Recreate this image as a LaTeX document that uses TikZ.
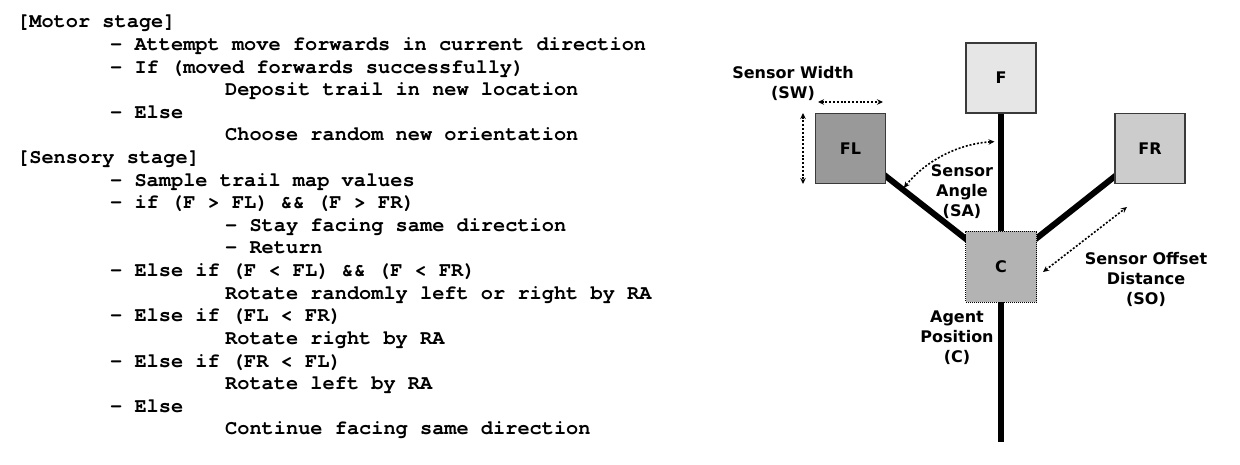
\documentclass[tikz,border=0pt]{standalone}
\usepackage{fontspec}
\usetikzlibrary{arrows.meta,backgrounds}
\newfontfamily\codefont{texgyrecursor}[Extension=.otf,UprightFont=*-regular,BoldFont=*-bold]
\newfontfamily\lblfont{DejaVu Sans}
\definecolor{boxedge}{HTML}{3A3A3A}
\definecolor{fillF}{HTML}{E6E6E6}
\definecolor{fillFL}{HTML}{999999}
\definecolor{fillFR}{HTML}{CCCCCC}
\definecolor{fillC}{HTML}{B3B3B3}
\begin{document}
\begin{tikzpicture}[x=1pt,y=-1pt,
  codeline/.style={anchor=base west,inner sep=0pt,font=\codefont\bfseries\fontsize{20.3}{22.6}\selectfont},
  lbl/.style={align=center,inner sep=0pt,anchor=north,font=\lblfont\bfseries\fontsize{16}{20}\selectfont},
  sensorbox/.style={draw=boxedge,line width=1.5pt,minimum size=70pt,inner sep=0pt,font=\lblfont\bfseries\fontsize{16}{20}\selectfont},
  agentbox/.style={draw=black,line width=0.8pt,dash pattern=on 1pt off 1pt,minimum size=71pt,inner sep=0pt,font=\lblfont\bfseries\fontsize{16}{20}\selectfont},
  stem/.style={line width=6pt,black,line cap=butt},
  dim/.style={line width=1.6pt,dash pattern=on 2pt off 1.8pt,{Stealth[length=6pt,width=5.5pt]}-{Stealth[length=6pt,width=5.5pt]}}]
\useasboundingbox (0,0) rectangle (1240,465);

% ---- pseudo code ----
\node[codeline] (l1)  at (17,28)     {[Motor stage]};
\node[codeline] (l2)  at (110,50.6)  {- Attempt move forwards in current direction};
\node[codeline] (l3)  at (110,73.2)  {- If (moved forwards successfully)};
\node[codeline] (l4)  at (225,95.8)  {Deposit trail in new location};
\node[codeline] (l5)  at (110,118.4) {- Else};
\node[codeline] (l6)  at (225,141)   {Choose random new orientation};
\node[codeline] (l7)  at (17,163.6)  {[Sensory stage]};
\node[codeline] (l8)  at (110,186.2) {- Sample trail map values};
\node[codeline] (l9)  at (110,208.8) {- if (F > FL) \&\& (F > FR)};
\node[codeline] (l10) at (225,231.4) {- Stay facing same direction};
\node[codeline] (l11) at (225,254)   {- Return};
\node[codeline] (l12) at (110,276.6) {- Else if (F < FL) \&\& (F < FR)};
\node[codeline] (l13) at (225,299.2) {Rotate randomly left or right by RA};
\node[codeline] (l14) at (110,321.8) {- Else if (FL < FR)};
\node[codeline] (l15) at (225,344.4) {Rotate right by RA};
\node[codeline] (l16) at (110,367)   {- Else if (FR < FL)};
\node[codeline] (l17) at (225,389.6) {Rotate left by RA};
\node[codeline] (l18) at (110,412.2) {- Else};
\node[codeline] (l19) at (225,434.8) {Continue facing same direction};

% ---- agent diagram ----
\node[sensorbox,fill=fillF]  (F)  at (1001,78)  {F};
\node[sensorbox,fill=fillFL] (FL) at (850.5,148.5) {FL};
\node[sensorbox,fill=fillFR] (FR) at (1150,148.5) {FR};
\node[agentbox,fill=fillC]   (C)  at (1001,266.5) {C};
\coordinate (tail) at (1001,442);

\begin{scope}[on background layer]
\draw[stem] (C.center) -- (F.center);
\draw[stem] (C.center) -- (FL.center);
\draw[stem] (C.center) -- (FR.center);
\draw[stem] (C.center) -- (tail);
\end{scope}

% labels
\node[lbl] (swl) at (793,66)  {Sensor Width\\(SW)};
\node[lbl] (sal) at (962,164) {Sensor\\Angle\\(SA)};
\node[lbl] (sol) at (1146,252) {Sensor Offset\\Distance\\(SO)};
\node[lbl] (cl)  at (957,311) {Agent\\Position\\(C)};

% dimension arrows
\coordinate (swa) at (818,102);
\coordinate (swb) at (883,102);
\draw[dim] (swa) -- (swb);
\coordinate (sva) at (803,113);
\coordinate (svb) at (803,184);
\draw[dim] (sva) -- (svb);
\draw[dim] ([shift={(-141:125)}]C.center) arc[start angle=-141,end angle=-93,radius=125];
\coordinate (soa) at (1043,272);
\coordinate (sob) at (1127,207);
\draw[dim] (soa) -- (sob);
\end{tikzpicture}
\end{document}
